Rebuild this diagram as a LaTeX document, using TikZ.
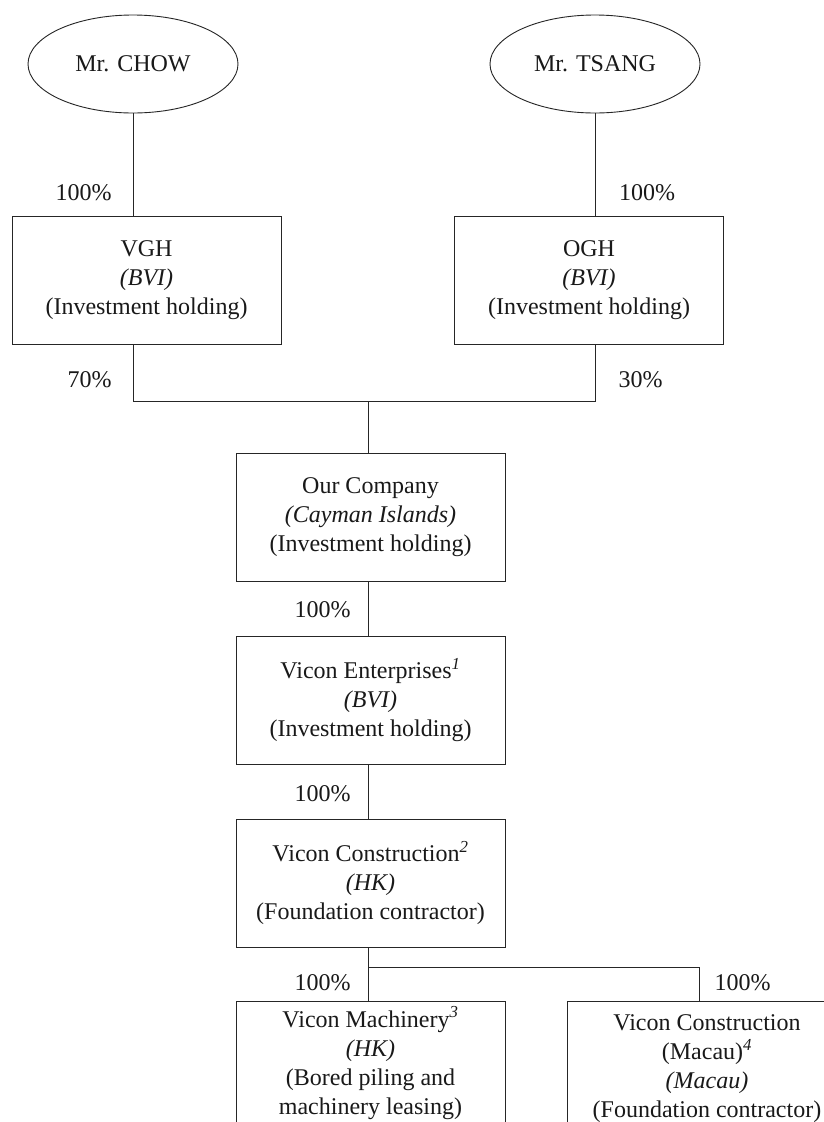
\documentclass[tikz,border=0pt]{standalone}
\usepackage{fontspec}
\setmainfont{Liberation Serif}
\usetikzlibrary{shapes.geometric}
\begin{document}
\begin{tikzpicture}[x=1pt,y=-1pt,
  every node/.style={font=\fontsize{24}{29}\selectfont, text=black!90},
  ent/.style={draw=black!85, line width=0.9pt, minimum width=269pt, minimum height=128pt, inner sep=0pt, align=center},
  person/.style={draw=black!85, ellipse, line width=0.9pt, minimum width=210pt, minimum height=98pt, inner sep=0pt},
  pct/.style={inner sep=0pt},
  link/.style={draw=black!85, line width=0.9pt}]
\fill[white] (0,0) rectangle (824,1122);
\clip (0,0) rectangle (824,1122);

\node[person] (chow) at (133,64) {Mr. CHOW};
\node[person] (tsang) at (595,64) {Mr. TSANG};

\node[ent] (vgh) at (146.5,280) {VGH\\\textit{(BVI)}\\(Investment holding)};
\node[ent] (ogh) at (589,280) {OGH\\\textit{(BVI)}\\(Investment holding)};
\node[ent] (co) at (370.5,517) {Our Company\\\textit{(Cayman Islands)}\\(Investment holding)};
\node[ent] (ve) at (370.5,700) {Vicon Enterprises\textsuperscript{\textit{1}}\\\textit{(BVI)}\\(Investment holding)};
\node[ent] (vc) at (370.5,883) {Vicon Construction\textsuperscript{\textit{2}}\\\textit{(HK)}\\(Foundation contractor)};
\node[ent, minimum height=124pt] (vm) at (370.5,1063) {Vicon Machinery\textsuperscript{\textit{3}}\\\textit{(HK)}\\(Bored piling and\\machinery leasing)};
\node[ent, minimum width=280pt, minimum height=136pt] (vmc) at (707,1069) {Vicon Construction\\(Macau)\textsuperscript{\textit{4}}\\\textit{(Macau)}\\(Foundation contractor)};

\coordinate (j1) at (368,401);
\coordinate (j2) at (368,967);
\coordinate (j3) at (699,967);

\draw[link] (chow.south) -- (chow.south |- vgh.north);
\draw[link] (tsang.south) -- (tsang.south |- ogh.north);
\draw[link] (chow.south |- vgh.south) -- (chow.south |- j1) -- (tsang.south |- j1) -- (tsang.south |- ogh.south);
\draw[link] (j1) -- (j1 |- co.north);
\draw[link] (j1 |- co.south) -- (j1 |- ve.north);
\draw[link] (j1 |- ve.south) -- (j1 |- vc.north);
\draw[link] (j1 |- vc.south) -- (j1 |- vm.north);
\draw[link] (j2) -- (j3) -- (j3 |- vmc.north);

\node[pct] (p1) at (83.5,193) {100\%};
\node[pct] (p2) at (647,193) {100\%};
\node[pct] (p3) at (89.5,380) {70\%};
\node[pct] (p4) at (640.5,380) {30\%};
\node[pct] (p5) at (322.5,610) {100\%};
\node[pct] (p6) at (322.5,794) {100\%};
\node[pct] (p7) at (322.5,983) {100\%};
\node[pct] (p8) at (742.5,983) {100\%};
\end{tikzpicture}
\end{document}
